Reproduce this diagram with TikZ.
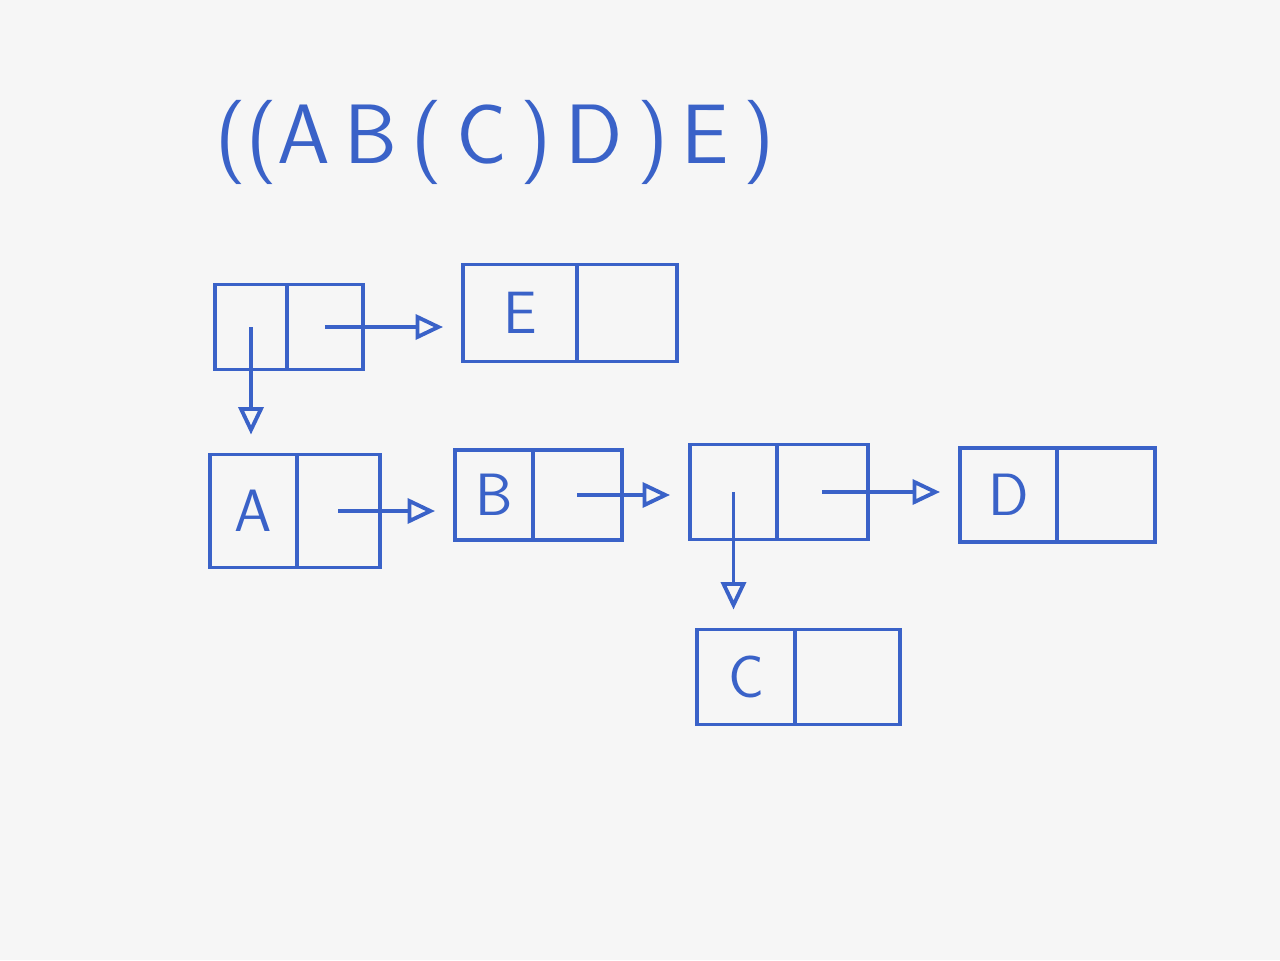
\documentclass[tikz,border=0pt]{standalone}
\usepackage{tikz}
\usetikzlibrary{arrows.meta,positioning}
\usepackage{xcolor}
\definecolor{penBlue}{HTML}{3A62C8}
\definecolor{paperBg}{HTML}{F6F6F6}
\tikzset{
    every picture/.style={
        >={Triangle[open,length=0.55cm,width=0.5cm]},
        line width=2.2pt
    },
    % cells of a cons pair
    carcell/.style={rectangle,draw=penBlue,line width=2.2pt,inner sep=0pt,outer sep=0pt,text=penBlue,font=\fontsize{34}{36}\sffamily\selectfont},
    cdrcell/.style={carcell,right=0pt of #1},
    % pointers
    pointer/.style={draw=penBlue,->,line width=2.2pt,shorten >=0.4cm}
}

\begin{document}
\begin{tikzpicture}[x=0.02cm,y=-0.02cm]

    % Paper
    \fill[paperBg] (0,0) rectangle (1280,960);
    \useasboundingbox (0,0) rectangle (1280,960);

    % Title
    \node[text=penBlue, font=\fontsize{48}{56}\sffamily\selectfont] (expr) at (495,142) {((A\,B\,(\,C\,)\,D\,)\,E\,)};

    % Root pair
    \node[carcell, minimum width=1.44cm, minimum height=1.7cm] (rootcar) at (251,327) {};
    \node[cdrcell=rootcar, minimum width=1.52cm, minimum height=1.7cm] (rootcdr) {};

    % E pair
    \node[carcell, minimum width=2.28cm, minimum height=1.94cm] (ecar) at (520,313) {E};
    \node[cdrcell=ecar, minimum width=2.0cm, minimum height=1.94cm] (ecdr) {};

    % A pair
    \node[carcell, minimum width=1.74cm, minimum height=2.26cm] (acar) at (253.5,511) {A};
    \node[cdrcell=acar, minimum width=1.66cm, minimum height=2.26cm] (acdr) {};

    % B pair
    \node[carcell, minimum width=1.56cm, minimum height=1.8cm] (bcar) at (494,495) {B};
    \node[cdrcell=bcar, minimum width=1.78cm, minimum height=1.8cm] (bcdr) {};

    % Nested pair
    \node[carcell, minimum width=1.74cm, minimum height=1.9cm] (subcar) at (733.5,492) {};
    \node[cdrcell=subcar, minimum width=1.82cm, minimum height=1.9cm] (subcdr) {};

    % D pair
    \node[carcell, minimum width=1.94cm, minimum height=1.88cm] (dcar) at (1008.5,495) {D};
    \node[cdrcell=dcar, minimum width=1.96cm, minimum height=1.88cm] (dcdr) {};

    % C pair
    \node[carcell, minimum width=1.96cm, minimum height=1.9cm] (ccar) at (746,677) {C};
    \node[cdrcell=ccar, minimum width=2.1cm, minimum height=1.9cm] (ccdr) {};

    % Connections
    \draw[pointer] (rootcar.center) -- (rootcar.center |- acar.north);
    \draw[pointer] (rootcdr.center) -- (rootcdr.center -| ecar.west);
    \draw[pointer] (acdr.center) -- (acdr.center -| bcar.west);
    \draw[pointer] (bcdr.center) -- (bcdr.center -| subcar.west);
    \draw[pointer] (subcar.center) -- (subcar.center |- ccar.north);
    \draw[pointer] (subcdr.center) -- (subcdr.center -| dcar.west);

\end{tikzpicture}
\end{document}
